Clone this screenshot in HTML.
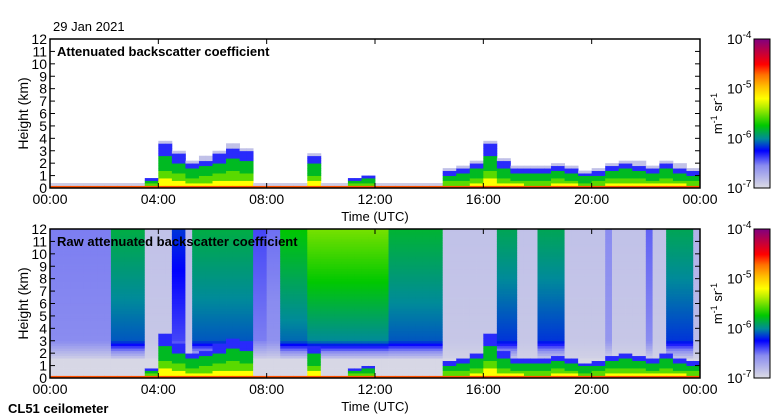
<!DOCTYPE html>
<html><head><meta charset="utf-8"><style>
body{margin:0;background:#fff;}
svg{display:block;font-family:"Liberation Sans",sans-serif;}
</style></head><body>
<svg id="c" width="780" height="420" xmlns="http://www.w3.org/2000/svg">
<defs>
<linearGradient id="cb" x1="0" y1="1" x2="0" y2="0">
<stop offset="0" stop-color="#dcdce4"/><stop offset="0.15" stop-color="#8a8cf0"/><stop offset="0.25" stop-color="#0000ff"/>
<stop offset="0.33" stop-color="#008a9a"/><stop offset="0.42" stop-color="#00c800"/><stop offset="0.55" stop-color="#c0f000"/>
<stop offset="0.6" stop-color="#ffff00"/><stop offset="0.68" stop-color="#ffc000"/><stop offset="0.76" stop-color="#ff7000"/>
<stop offset="0.83" stop-color="#ff0000"/><stop offset="1" stop-color="#800080"/>
</linearGradient>
</defs>
<g id="p1"></g>
<g id="p2"></g>
<g id="ax"></g>
</svg>
<script>
// data
const layerH = [0.25,0.25,0.25,0.25,0.35,0.35,0.35,0.8,3.5,2.8,2.0,2.3,2.8,3.3,3.0,
 0.3,0.3,0.3,0.3,2.6,0.3,0.3,0.8,1.0,0.4,0.4,0.4,0.4,0.4,
 1.3,1.5,2.0,3.5,2.2,1.6,1.5,1.5,1.8,1.6,1.2,1.4,1.8,2.0,1.9,1.6,2.0,1.7,1.3];
const segStart = [0,2.3,3.6,4.4,5.05,5.25,7.4,8.0,8.4,9.5,12.5,14.5,14.9,15.1,15.9,16.05,16.4,17.3,18.0,18.95,20.5,20.7,22.0,22.3,22.65,23.7];
const segTop   = [0.16,0.38,0.05,0.28,0.06,0.38,0.2,0.17,0.42,0.5,0.39,0.05,0.15,0.05,0.18,0.05,0.37,0.05,0.37,0.05,0.15,0.05,0.18,0.05,0.37,0.08];
const segLow   = [0.15,0.3,0.04,0.2,0.05,0.3,0.16,0.14,0.31,0.33,0.3,0.04,0.12,0.04,0.15,0.04,0.28,0.04,0.28,0.04,0.13,0.04,0.15,0.04,0.28,0.06];
const yTicks = ["0","1","2","3","4","5","6","7","8","9","10","11","12"];
const xTicks = ["00:00","04:00","08:00","12:00","16:00","20:00","00:00"];
const cbExp = ["-7","-6","-5","-4"];

const NS="http://www.w3.org/2000/svg";
const X0=50,X1=700;
const panels=[{y0:39,y1:188,g:'p1',raw:false,title:'Attenuated backscatter coefficient'},
              {y0:229,y1:378,g:'p2',raw:true,title:'Raw attenuated backscatter coefficient'}];
const stops=[[0,[220,220,228]],[0.15,[138,140,240]],[0.25,[0,0,255]],[0.33,[0,138,154]],[0.42,[0,200,0]],[0.55,[192,240,0]],[0.6,[255,255,0]],[0.68,[255,192,0]],[0.76,[255,112,0]],[0.83,[255,0,0]],[1,[128,0,128]]];
function cmap(f){f=Math.max(0,Math.min(1,f));for(let i=1;i<stops.length;i++){if(f<=stops[i][0]){const a=stops[i-1],b=stops[i];const t=(f-a[0])/(b[0]-a[0]);const c=a[1].map((v,k)=>Math.round(v+(b[1][k]-v)*t));return `rgb(${c})`;}}return 'rgb(128,0,128)';}
function xs(h){return X0+(X1-X0)*h/24;}
function el(tag,at,parent,txt){const e=document.createElementNS(NS,tag);for(const k in at)e.setAttribute(k,at[k]);if(txt!==undefined)e.textContent=txt;parent.appendChild(e);return e;}
function layerF(z,H){
  const r=z/H; if(r>1) return null;
  if(r>0.75) return 0.22; if(r>0.4) return 0.4; if(r>0.2) return 0.48; return 0.6;}
function segIdx(h){let i=0;while(i+1<segStart.length&&segStart[i+1]<=h)i++;return i;}
const NC=96,NZ=60,dz=12/NZ;
panels.forEach(p=>{
  const g=document.getElementById(p.g);
  const ys=z=>p.y1-(p.y1-p.y0)*z/12;
  el('rect',{x:X0,y:p.y0,width:X1-X0,height:p.y1-p.y0,fill:'#fff'},g);
  for(let c=0;c<NC;c++){
    const h=(c+0.5)*24/NC; const H=layerH[Math.min(47,Math.floor(h*2))]; const s=segIdx(h);
    for(let k=0;k<NZ;k++){
      const z=(k+0.5)*dz; let f=(H>0.5)?layerF(z,H):null;
      if(f===null){
        if(p.raw){ if(z>3) f=segLow[s]+(segTop[s]-segLow[s])*(z-3)/9; else if(z>1.5) f=0.02+(segLow[s]-0.02)*(z-1.5)/1.5; else f=0.01; }
        else { if(H>1&&z<H+0.3) f=0.05; else if(z<0.4) f=0.03; else continue; }
      }
      if(z<0.2) f=Math.max(f,0.78);
      const r=el('rect',{x:xs(c*24/NC).toFixed(2),y:ys((k+1)*dz).toFixed(2),width:(650/NC+0.4).toFixed(2),height:((p.y1-p.y0)/NZ+0.4).toFixed(2),fill:cmap(f)},g);
      
      
    }
  }
});
const ax=document.getElementById('ax');
panels.forEach((p,i)=>{
  const ys=z=>p.y1-(p.y1-p.y0)*z/12;
  el('rect',{x:X0,y:p.y0,width:X1-X0,height:p.y1-p.y0,fill:'none',stroke:'#000','stroke-width':1.5,},ax);
  yTicks.forEach((t,j)=>{const y=ys(j);
    el('line',{x1:X0,x2:X0+5,y1:y,y2:y,stroke:'#000'},ax);el('line',{x1:X1,x2:X1-5,y1:y,y2:y,stroke:'#000'},ax);
    const tx=el('text',{x:X0-3,y:y+5,'text-anchor':'end','font-size':14},ax,t);
    });
  xTicks.forEach((t,j)=>{const x=xs(j*4);
    el('line',{x1:x,x2:x,y1:p.y1,y2:p.y1-5,stroke:'#000'},ax);el('line',{x1:x,x2:x,y1:p.y0,y2:p.y0+5,stroke:'#000'},ax);
    const tx=el('text',{x:x,y:p.y1+16,'text-anchor':'middle','font-size':14},ax,t);
    });
  el('text',{x:375,y:p.y1+33,'text-anchor':'middle','font-size':13,},ax,'Time (UTC)');
  el('text',{x:0,y:0,transform:`translate(28,${(p.y0+p.y1)/2}) rotate(-90)`,'text-anchor':'middle','font-size':14,},ax,'Height (km)');
  el('text',{x:57,y:p.y0+17,'font-size':13,'font-weight':'bold',},ax,p.title);
  el('rect',{x:754,y:p.y0,width:16,height:p.y1-p.y0,fill:'url(#cb)',stroke:'#000',},ax);
  cbExp.forEach((e,j)=>{const y=p.y1-(p.y1-p.y0)*j/3;
    const t=el('text',{x:727,y:y+5,'font-size':14},ax);
    el('tspan',{},t,'10');el('tspan',{dy:-6,'font-size':10},t,e);});
  const u=el('text',{x:0,y:0,transform:`translate(722,${(p.y0+p.y1)/2}) rotate(-90)`,'text-anchor':'middle','font-size':13,},ax);
  el('tspan',{},u,'m');el('tspan',{dy:-5,'font-size':9},u,'-1');el('tspan',{dy:5},u,' sr');el('tspan',{dy:-5,'font-size':9},u,'-1');
});
el('text',{x:53,y:31,'font-size':13,},ax,'29 Jan 2021');
el('text',{x:8,y:413,'font-size':13,'font-weight':'bold',},ax,'CL51 ceilometer');
</script>
</body></html>
